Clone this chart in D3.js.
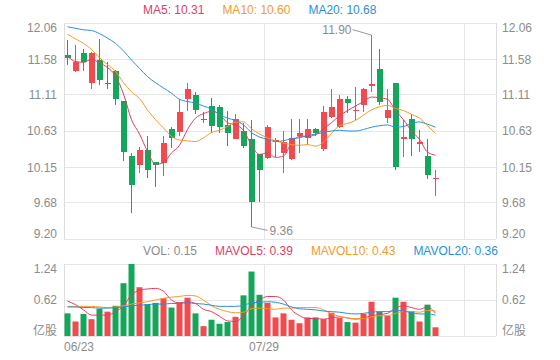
<!DOCTYPE html>
<html>
  <head>
    <meta charset="utf-8">
    <script src="https://d3js.org/d3.v7.min.js"></script>
    <title>K-line</title>
    <style>
      body {
        margin: 0px;
        background: #fff;
      }
      text {
        font-family: "Liberation Sans", Arial, "Noto Sans CJK SC", sans-serif;
        font-size: 12px;
      }
      .domain {
        display: none;
      }
      .tick text, .date-label, .mark-label {
        fill: #8c8c8c;
      }
    </style>
  </head>
  <body>
    <div id="chart"></div>
    <script>
      // daily candles, 06/23 onwards
      const open = [11.63, 11.42, 11.66, 11.27, 11.57, 11.26, 11.42, 11.03, 10.30, 10.18,
        10.38, 10.22, 10.21, 10.66, 10.62, 11.05, 11.11, 10.795, 10.96, 10.95,
        10.71, 10.52, 10.63, 10.52, 10.33, 10.27, 10.48, 10.34, 10.26, 10.56,
        10.54, 10.65, 10.39, 10.82, 10.68, 11.05, 10.89, 10.98, 11.22, 11.45,
        10.80, 11.26, 10.52, 10.79, 10.46, 10.30, 9.99];
      const close = [11.59, 11.55, 11.55, 11.66, 11.31, 11.26, 11.05, 10.35, 9.92, 10.38,
        10.11, 10.18, 10.47, 10.54, 10.88, 11.18, 10.91, 10.795, 10.69, 10.68,
        10.60, 10.79, 10.43, 9.69, 10.11, 10.68, 10.51, 10.49, 10.54, 10.60,
        10.65, 10.61, 10.88, 10.95, 11.05, 11.00, 10.91, 11.18, 11.25, 11.01,
        10.91, 10.15, 10.55, 10.52, 10.48, 10.05, 10.01];
      const high = [11.84, 11.77, 11.71, 11.67, 11.85, 11.54, 11.44, 11.03, 10.34, 10.42,
        10.57, 10.22, 10.57, 10.68, 11.05, 11.27, 11.14, 10.88, 11.07, 10.97,
        10.89, 10.85, 10.73, 10.78, 10.33, 10.71, 10.54, 10.63, 10.79, 10.79,
        10.79, 10.67, 10.96, 11.19, 11.11, 11.09, 11.21, 11.20, 11.90, 11.71,
        11.19, 11.26, 10.78, 10.86, 10.64, 10.52, 10.11];
      const low = [11.50, 11.41, 11.42, 11.19, 11.24, 11.18, 10.98, 10.23, 9.54, 10.07,
        10.01, 9.89, 10.03, 10.41, 10.56, 10.89, 10.85, 10.74, 10.60, 10.60,
        10.43, 10.52, 10.41, 9.36, 9.69, 10.26, 10.29, 10.07, 10.25, 10.34,
        10.45, 10.57, 10.37, 10.80, 10.67, 10.87, 10.78, 10.88, 11.14, 10.97,
        10.74, 10.11, 10.29, 10.30, 10.35, 9.99, 9.77];
      // volume in 亿股
      const volume = [0.39, 0.25, 0.38, 0.29, 0.47, 0.42, 0.52, 0.91, 1.24, 0.84,
        0.55, 0.57, 0.65, 0.49, 0.58, 0.66, 0.39, 0.17, 0.28, 0.21,
        0.24, 0.33, 0.70, 1.11, 0.71, 0.57, 0.32, 0.39, 0.28, 0.22,
        0.32, 0.32, 0.29, 0.40, 0.31, 0.24, 0.23, 0.38, 0.59, 0.42,
        0.35, 0.66, 0.59, 0.43, 0.25, 0.54, 0.15];

      // moving averages as shown
      const ma5 = [11.62, 11.55, 11.54, 11.58, 11.53, 11.47, 11.36, 11.12, 10.78, 10.59,
        10.36, 10.19, 10.21, 10.34, 10.44, 10.65, 10.80, 10.86, 10.89, 10.85,
        10.74, 10.71, 10.64, 10.44, 10.32, 10.34, 10.28, 10.30, 10.47, 10.56,
        10.56, 10.58, 10.66, 10.74, 10.83, 10.90, 10.96, 11.02, 11.08, 11.07,
        11.05, 10.90, 10.78, 10.63, 10.52, 10.35, 10.31];
      const ma10 = [11.91, 11.85, 11.79, 11.71, 11.60, 11.51, 11.42, 11.27, 11.15, 11.06,
        10.91, 10.78, 10.67, 10.56, 10.51, 10.50, 10.49, 10.54, 10.61, 10.64,
        10.69, 10.75, 10.75, 10.66, 10.59, 10.54, 10.50, 10.47, 10.45, 10.44,
        10.45, 10.43, 10.48, 10.60, 10.70, 10.73, 10.77, 10.84, 10.91, 10.95,
        10.97, 10.93, 10.90, 10.85, 10.80, 10.70, 10.60];
      const ma20 = [12.01, 11.99, 11.97, 11.96, 11.92, 11.86, 11.79, 11.69, 11.57, 11.46,
        11.35, 11.27, 11.20, 11.13, 11.05, 11.02, 11.00, 10.96, 10.92, 10.85,
        10.80, 10.77, 10.71, 10.61, 10.55, 10.52, 10.49, 10.50, 10.53, 10.54,
        10.57, 10.59, 10.61, 10.63, 10.64, 10.63, 10.63, 10.65, 10.68, 10.70,
        10.71, 10.68, 10.69, 10.73, 10.75, 10.72, 10.68];
      const mavol5 = [0.60, 0.54, 0.45, 0.36, 0.36, 0.36, 0.42, 0.52, 0.71, 0.79,
        0.81, 0.82, 0.77, 0.62, 0.57, 0.59, 0.56, 0.46, 0.42, 0.34,
        0.26, 0.25, 0.35, 0.52, 0.62, 0.68, 0.68, 0.62, 0.45, 0.35,
        0.30, 0.30, 0.29, 0.31, 0.33, 0.31, 0.29, 0.31, 0.35, 0.37,
        0.39, 0.48, 0.52, 0.49, 0.46, 0.50, 0.39];
      const mavol10 = [0.51, 0.51, 0.51, 0.51, 0.50, 0.49, 0.50, 0.52, 0.55, 0.57,
        0.59, 0.62, 0.65, 0.67, 0.68, 0.70, 0.69, 0.62, 0.52, 0.46,
        0.42, 0.40, 0.41, 0.47, 0.48, 0.47, 0.46, 0.48, 0.48, 0.49,
        0.49, 0.49, 0.45, 0.38, 0.34, 0.31, 0.30, 0.30, 0.33, 0.35,
        0.35, 0.39, 0.42, 0.42, 0.41, 0.44, 0.43];
      const mavol20 = [0.50, 0.50, 0.49, 0.49, 0.48, 0.48, 0.49, 0.50, 0.52, 0.53,
        0.54, 0.55, 0.55, 0.56, 0.56, 0.57, 0.56, 0.55, 0.53, 0.51,
        0.51, 0.51, 0.53, 0.57, 0.58, 0.59, 0.58, 0.55, 0.50, 0.47,
        0.46, 0.45, 0.43, 0.42, 0.41, 0.39, 0.38, 0.39, 0.41, 0.42,
        0.42, 0.44, 0.43, 0.40, 0.38, 0.38, 0.36];

      const priceTicks = [12.06, 11.58, 11.11, 10.63, 10.15, 9.68, 9.20];
      const volTicks = [0, 0.62, 1.24];
      const dateLabels = ['06/23', '07/29'];
      const dateIndex = [0, 25];
      const gridIndex = [0, 25, 50];
      const slots = 54;

      const upColor = '#f24a4f';
      const downColor = '#14a75c';
      const maColors = ['#dd3f63', '#f39b2b', '#2b8fd6'];
      const gridColor = '#e6e6e6';

      const svg = d3.select('#chart').append('svg')
        .attr('width', 560)
        .attr('height', 360);

      const left = 64, right = 496;
      const pTop = 23, pBottom = 239;
      const vTop = 264, vBottom = 336;
      const bodyW = 6;

      const x = d3.scaleBand().domain(d3.range(slots)).range([left, right]);
      const cx = i => x(i) + bodyW / 2;
      const yP = d3.scaleLinear().domain([9.20, 12.06]).range([pBottom, pTop]);
      const yV = d3.scaleLinear().domain([0, 1.24]).range([vBottom, vTop]);

      // up / down: close vs open, doji falls back on previous close
      const isUp = i => close[i] > open[i] || (close[i] === open[i] && i > 0 && close[i] > close[i - 1]);
      const volUp = i => close[i] >= open[i];

      const grid = svg.append('g').attr('shape-rendering', 'crispEdges');

      //horizontal grid lines
      grid.selectAll('.hp').data(priceTicks).enter().append('line')
        .attr('x1', left).attr('x2', right)
        .attr('y1', d => yP(d)).attr('y2', d => yP(d))
        .attr('stroke', gridColor);
      grid.selectAll('.hv').data(volTicks).enter().append('line')
        .attr('class', 'hv')
        .attr('x1', left).attr('x2', right)
        .attr('y1', d => yV(d)).attr('y2', d => yV(d))
        .attr('stroke', gridColor);

      //vertical grid lines + frame edges
      const vx = gridIndex.map(i => x(i)).concat([right]);
      [[pTop, pBottom], [vTop, vBottom]].forEach(([a, b]) => {
        vx.forEach(px => {
          grid.append('line')
            .attr('x1', px).attr('x2', px)
            .attr('y1', a).attr('y2', b)
            .attr('stroke', px === left || px === right ? '#dcdcdc' : gridColor);
        });
      });

      //axes
      const axisStyle = (g, top, bottom) => {
        g.selectAll('.tick text')
          .attr('y', d => d === top ? 5 : d === bottom ? -5 : 0);
      };
      const pMax = d3.max(priceTicks), pMin = d3.min(priceTicks);
      svg.append('g').attr('transform', `translate(${left},0)`)
        .call(d3.axisLeft(yP).tickValues(priceTicks).tickSize(0).tickPadding(7).tickFormat(d3.format('.2f')))
        .call(g => axisStyle(g, pMax, pMin));
      svg.append('g').attr('transform', `translate(${right},0)`)
        .call(d3.axisRight(yP).tickValues(priceTicks).tickSize(0).tickPadding(6).tickFormat(d3.format('.2f')))
        .call(g => axisStyle(g, pMax, pMin));

      const volFormat = d => d === 0 ? '亿股' : d.toFixed(2);
      svg.append('g').attr('transform', `translate(${left},0)`)
        .call(d3.axisLeft(yV).tickValues(volTicks).tickSize(0).tickPadding(7).tickFormat(volFormat))
        .call(g => axisStyle(g, 1.24, 0));
      svg.append('g').attr('transform', `translate(${right},0)`)
        .call(d3.axisRight(yV).tickValues(volTicks).tickSize(0).tickPadding(6).tickFormat(volFormat))
        .call(g => axisStyle(g, 1.24, 0));

      svg.selectAll('.tick text').attr('font-size', 12);

      //date labels
      svg.selectAll('.date-label').data(dateLabels).enter().append('text')
        .attr('class', 'date-label')
        .attr('x', (d, k) => x(dateIndex[k]))
        .attr('y', 351)
        .attr('text-anchor', (d, k) => dateIndex[k] === 0 ? 'start' : 'middle')
        .text(d => d);

      //candles
      const idx = d3.range(close.length);
      const candles = svg.append('g').attr('shape-rendering', 'crispEdges');
      candles.selectAll('.wick').data(idx).enter().append('line')
        .attr('x1', i => cx(i) + 0.5).attr('x2', i => cx(i) + 0.5)
        .attr('y1', i => yP(high[i])).attr('y2', i => yP(low[i]))
        .attr('stroke', i => isUp(i) ? upColor : downColor);
      candles.selectAll('.body').data(idx).enter().append('rect')
        .attr('x', i => x(i) + 0.5)
        .attr('y', i => yP(Math.max(open[i], close[i])))
        .attr('width', bodyW)
        .attr('height', i => Math.max(1, Math.abs(yP(open[i]) - yP(close[i]))))
        .attr('fill', i => isUp(i) ? upColor : downColor);

      //volume bars
      svg.append('g').selectAll('rect').data(idx).enter().append('rect')
        .attr('x', i => x(i) + 0.5)
        .attr('y', i => yV(volume[i]))
        .attr('width', bodyW)
        .attr('height', i => vBottom - yV(volume[i]))
        .attr('fill', i => volUp(i) ? upColor : downColor);

      //moving average lines
      const drawLine = (series, y, color) => {
        const line = d3.line()
          .x((d, i) => cx(i) + 0.5)
          .y(d => y(d))
          .curve(d3.curveMonotoneX);
        svg.append('path')
          .datum(series)
          .attr('d', line)
          .attr('fill', 'none')
          .attr('stroke', color)
          .attr('stroke-width', 1);
      };
      [ma5, ma10, ma20].forEach((s, k) => drawLine(s, yP, maColors[k]));
      [mavol5, mavol10, mavol20].forEach((s, k) => drawLine(s, yV, maColors[k]));

      //high / low marks
      const mark = (i, v, dy) => {
        const px = cx(i) + 0.5, py = yP(v);
        const toLeft = px > (left + right) / 2;
        const ex = toLeft ? px - 19 : px + 16;
        const ey = py + dy;
        svg.append('line')
          .attr('x1', px).attr('y1', py)
          .attr('x2', ex).attr('y2', ey)
          .attr('stroke', '#9a9a9a');
        svg.append('text')
          .attr('class', 'mark-label')
          .attr('x', toLeft ? ex - 1 : ex + 2)
          .attr('y', ey + 4.3)
          .attr('text-anchor', toLeft ? 'end' : 'start')
          .text(v.toFixed(2));
      };
      const hi = d3.maxIndex(high), lo = d3.minIndex(low);
      mark(hi, high[hi], -5.5);
      mark(lo, low[lo], 3.5);

      //legends
      const legend = (items, y) => {
        let px = 143;
        items.forEach(([label, val, color]) => {
          const t = svg.append('text')
            .attr('x', px).attr('y', y)
            .attr('fill', color)
            .text(`${label}: ${val.toFixed(2)}`);
          px += t.node().getComputedTextLength() + 18;
        });
      };
      const last = close.length - 1;
      legend([
        ['MA5', ma5[last], maColors[0]],
        ['MA10', ma10[last], maColors[1]],
        ['MA20', ma20[last], maColors[2]]
      ], 13.5);
      legend([
        ['VOL', volume[last], '#8c8c8c'],
        ['MAVOL5', mavol5[last], maColors[0]],
        ['MAVOL10', mavol10[last], maColors[1]],
        ['MAVOL20', mavol20[last], maColors[2]]
      ], 255);
    </script>
  </body>
</html>
